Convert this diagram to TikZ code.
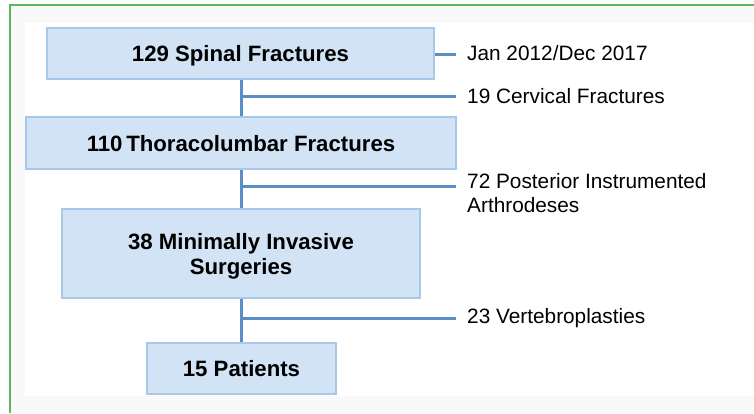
\documentclass[tikz,border=0pt]{standalone}
\usepackage{fontspec}
\setmainfont{Liberation Sans}
\definecolor{boxfill}{HTML}{D2E3F5}
\definecolor{boxline}{HTML}{A8C8EA}
\definecolor{linkblue}{HTML}{5A8EC6}
\definecolor{framegreen}{HTML}{5DB75D}
\definecolor{bggray}{HTML}{F9F9F9}
\tikzset{
  stagebox/.style={draw=boxline, fill=boxfill, line width=1.8pt, inner sep=0pt, align=center,
    text depth=0pt, font=\fontsize{22.2}{25}\selectfont\bfseries},
  sidelabel/.style={anchor=west, inner sep=0pt, align=left,
    font=\fontsize{20.8}{24.5}\selectfont},
  link/.style={draw=linkblue, line width=3pt}
}
\begin{document}
\begin{tikzpicture}[x=1pt,y=-1pt]
\useasboundingbox (0,0) rectangle (754,413);
\fill[white] (0,0) rectangle (754,413);
\fill[bggray] (10,5) rectangle (754,413);
\fill[white] (25,23) rectangle (754,396);
\draw[framegreen, line width=1.6pt] (10,413) -- (10,5) -- (754,5);
% boxes
\node[stagebox, minimum width=387, minimum height=51] (b1) at (240.5,53.5) {129 Spinal Fractures};
\node[stagebox, minimum width=430, minimum height=52] (b2) at (241,143) {110\,Thoracolumbar Fractures};
\node[stagebox, minimum width=358, minimum height=89] (b3) at (241,253.5) {38 Minimally Invasive\\Surgeries};
\node[stagebox, minimum width=189, minimum height=51] (b4) at (241.5,368.5) {15 Patients};
% side labels
\coordinate (e1) at (456,54);
\coordinate (e2) at (456,96);
\coordinate (e3) at (456,186);
\coordinate (e4) at (456,318);
\node[sidelabel] (l1) at (467,53) {Jan 2012/Dec 2017};
\node[sidelabel] (l2) at (467,96) {19 Cervical Fractures};
\node[sidelabel] (l3) at (467,193) {72 Posterior Instrumented\\Arthrodeses};
\node[sidelabel] (l4) at (467,318) {23 Vertebroplasties};
% connectors
\path[link] (b1.east |- e1) -- (e1);
\path[link] (b1.south -| 241,0) -- (b2.north -| 241,0);
\path[link] (241,96) -- (e2);
\path[link] (b2.south -| 241,0) -- (b3.north -| 241,0);
\path[link] (241,186) -- (e3);
\path[link] (b3.south -| 241,0) -- (b4.north -| 241,0);
\path[link] (241,318) -- (e4);
\end{tikzpicture}
\end{document}
